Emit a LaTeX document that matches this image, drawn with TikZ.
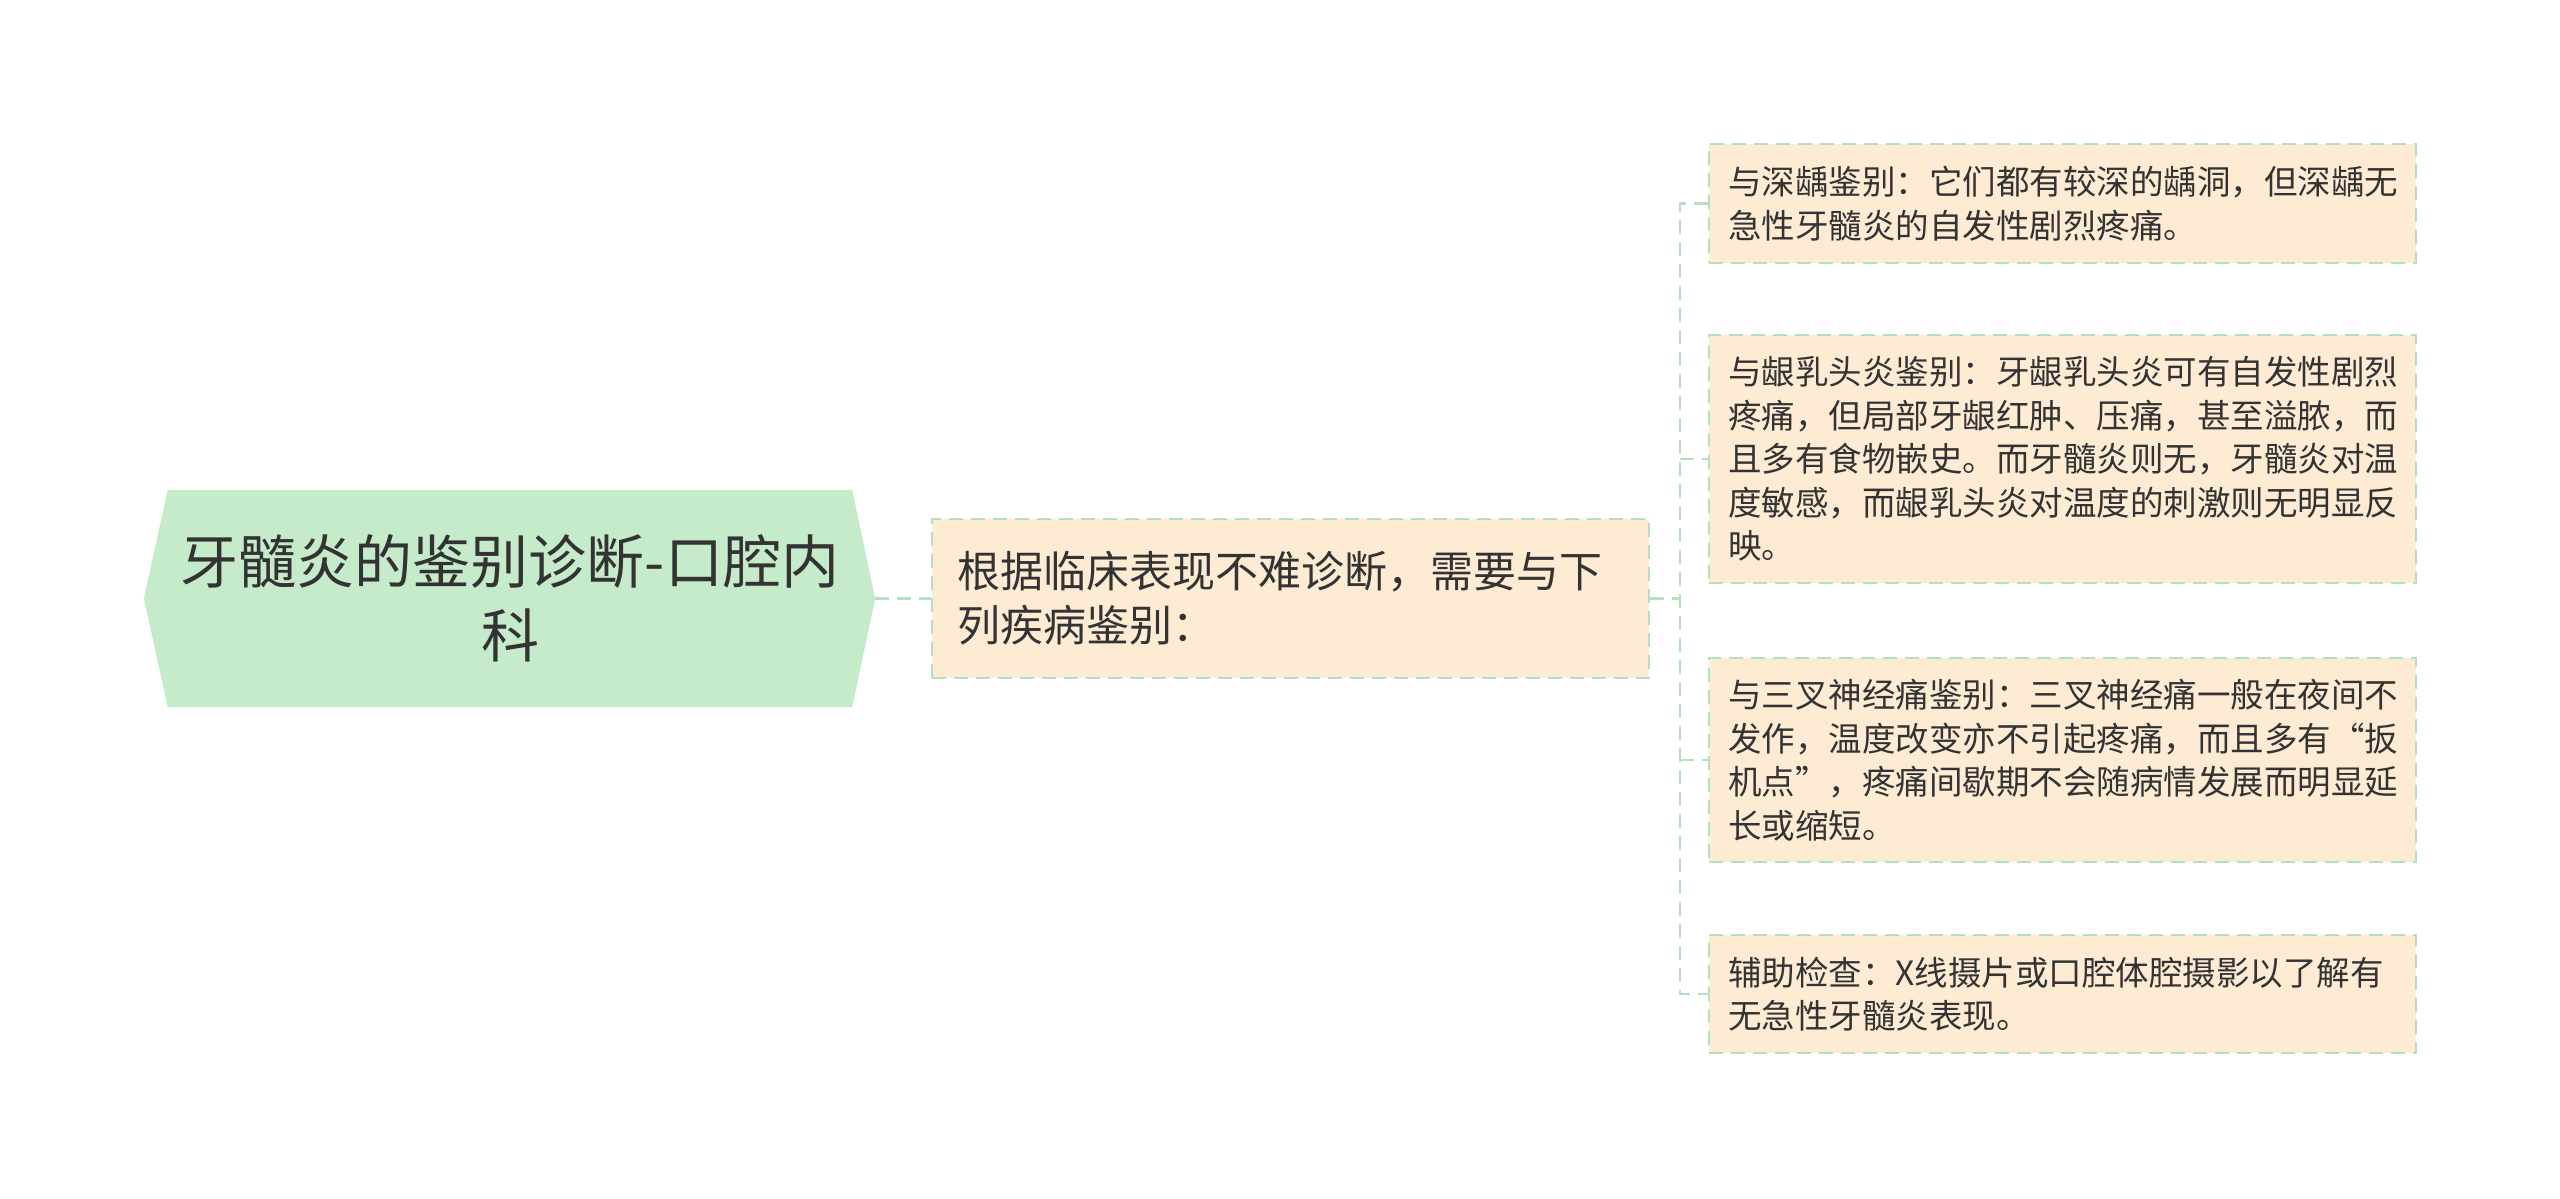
\documentclass[tikz,border=0pt]{standalone}
\usepackage{fontspec}
\setmainfont{Noto Sans CJK SC}
\usetikzlibrary{backgrounds,calc}
\definecolor{rootfill}{HTML}{C5EBCA}
\definecolor{boxfill}{HTML}{FDEBD4}
\definecolor{linegreen}{HTML}{B3E0BF}
\definecolor{txt}{HTML}{333333}
\begin{document}
\begin{tikzpicture}[x=1pt,y=-1pt,
  conn/.style={draw=linegreen,line width=2.5pt,dash pattern=on 14pt off 8pt},
  rootbox/.style={minimum width=684pt,minimum height=217pt,inner sep=0pt,align=center,
    text=txt,font=\fontsize{58}{74}\selectfont},
  midbox/.style={draw=linegreen,line width=2.5pt,dash pattern=on 14pt off 8pt,fill=boxfill,
    minimum width=717pt,minimum height=159pt,text width=667pt,inner xsep=25pt,inner ysep=0pt,
    align=left,text=txt,font=\fontsize{43}{54}\selectfont},
  leafbox/.style={draw=linegreen,line width=2.5pt,dash pattern=on 14pt off 8pt,fill=boxfill,
    minimum width=707pt,text width=669pt,inner xsep=19pt,inner ysep=0pt,
    align=left,text=txt,font=\fontsize{33.5}{43.5}\selectfont}]
\useasboundingbox (0,0) rectangle (2560,1199);

\node[rootbox] (root) at (510,598.5) {牙髓炎的鉴别诊断-口腔内\\科};
\coordinate (rootR) at ($(root.east)+(23,0)$);
\coordinate (rootL) at ($(root.west)+(-24,0)$);
\begin{scope}[on background layer]
\fill[rootfill] (root.north west) -- (root.north east) -- (rootR) -- (root.south east)
  -- (root.south west) -- (rootL) -- cycle;
\end{scope}

\node[midbox] (mid) at (1290.5,598.5) {根据临床表现不难诊断，需要与下\\列疾病鉴别：};

\node[leafbox,minimum height=119pt] (n1) at (2062.5,203.5)
  {与深龋鉴别：它们都有较深的龋洞，但深龋无\\急性牙髓炎的自发性剧烈疼痛。};
\node[leafbox,minimum height=248pt] (n2) at (2062.5,459)
  {与龈乳头炎鉴别：牙龈乳头炎可有自发性剧烈\\疼痛，但局部牙龈红肿、压痛，甚至溢脓，而\\且多有食物嵌史。而牙髓炎则无，牙髓炎对温\\度敏感，而龈乳头炎对温度的刺激则无明显反\\映。};
\node[leafbox,minimum height=204pt] (n3) at (2062.5,760)
  {与三叉神经痛鉴别：三叉神经痛一般在夜间不\\发作，温度改变亦不引起疼痛，而且多有“扳\\机点”，疼痛间歇期不会随病情发展而明显延\\长或缩短。};
\node[leafbox,minimum height=118pt] (n4) at (2062.5,994)
  {辅助检查：X线摄片或口腔体腔摄影以了解有\\无急性牙髓炎表现。};

\coordinate (bus) at (1680,598.5);
\draw[conn] (rootR) -- (mid.west);
\draw[conn] (mid.east) -- (bus);
\draw[conn] (n1.west) -- (n1.west -| bus) -- (n4.west -| bus) -- (n4.west);
\draw[conn] (n2.west -| bus) -- (n2.west);
\draw[conn] (n3.west -| bus) -- (n3.west);
\end{tikzpicture}
\end{document}
